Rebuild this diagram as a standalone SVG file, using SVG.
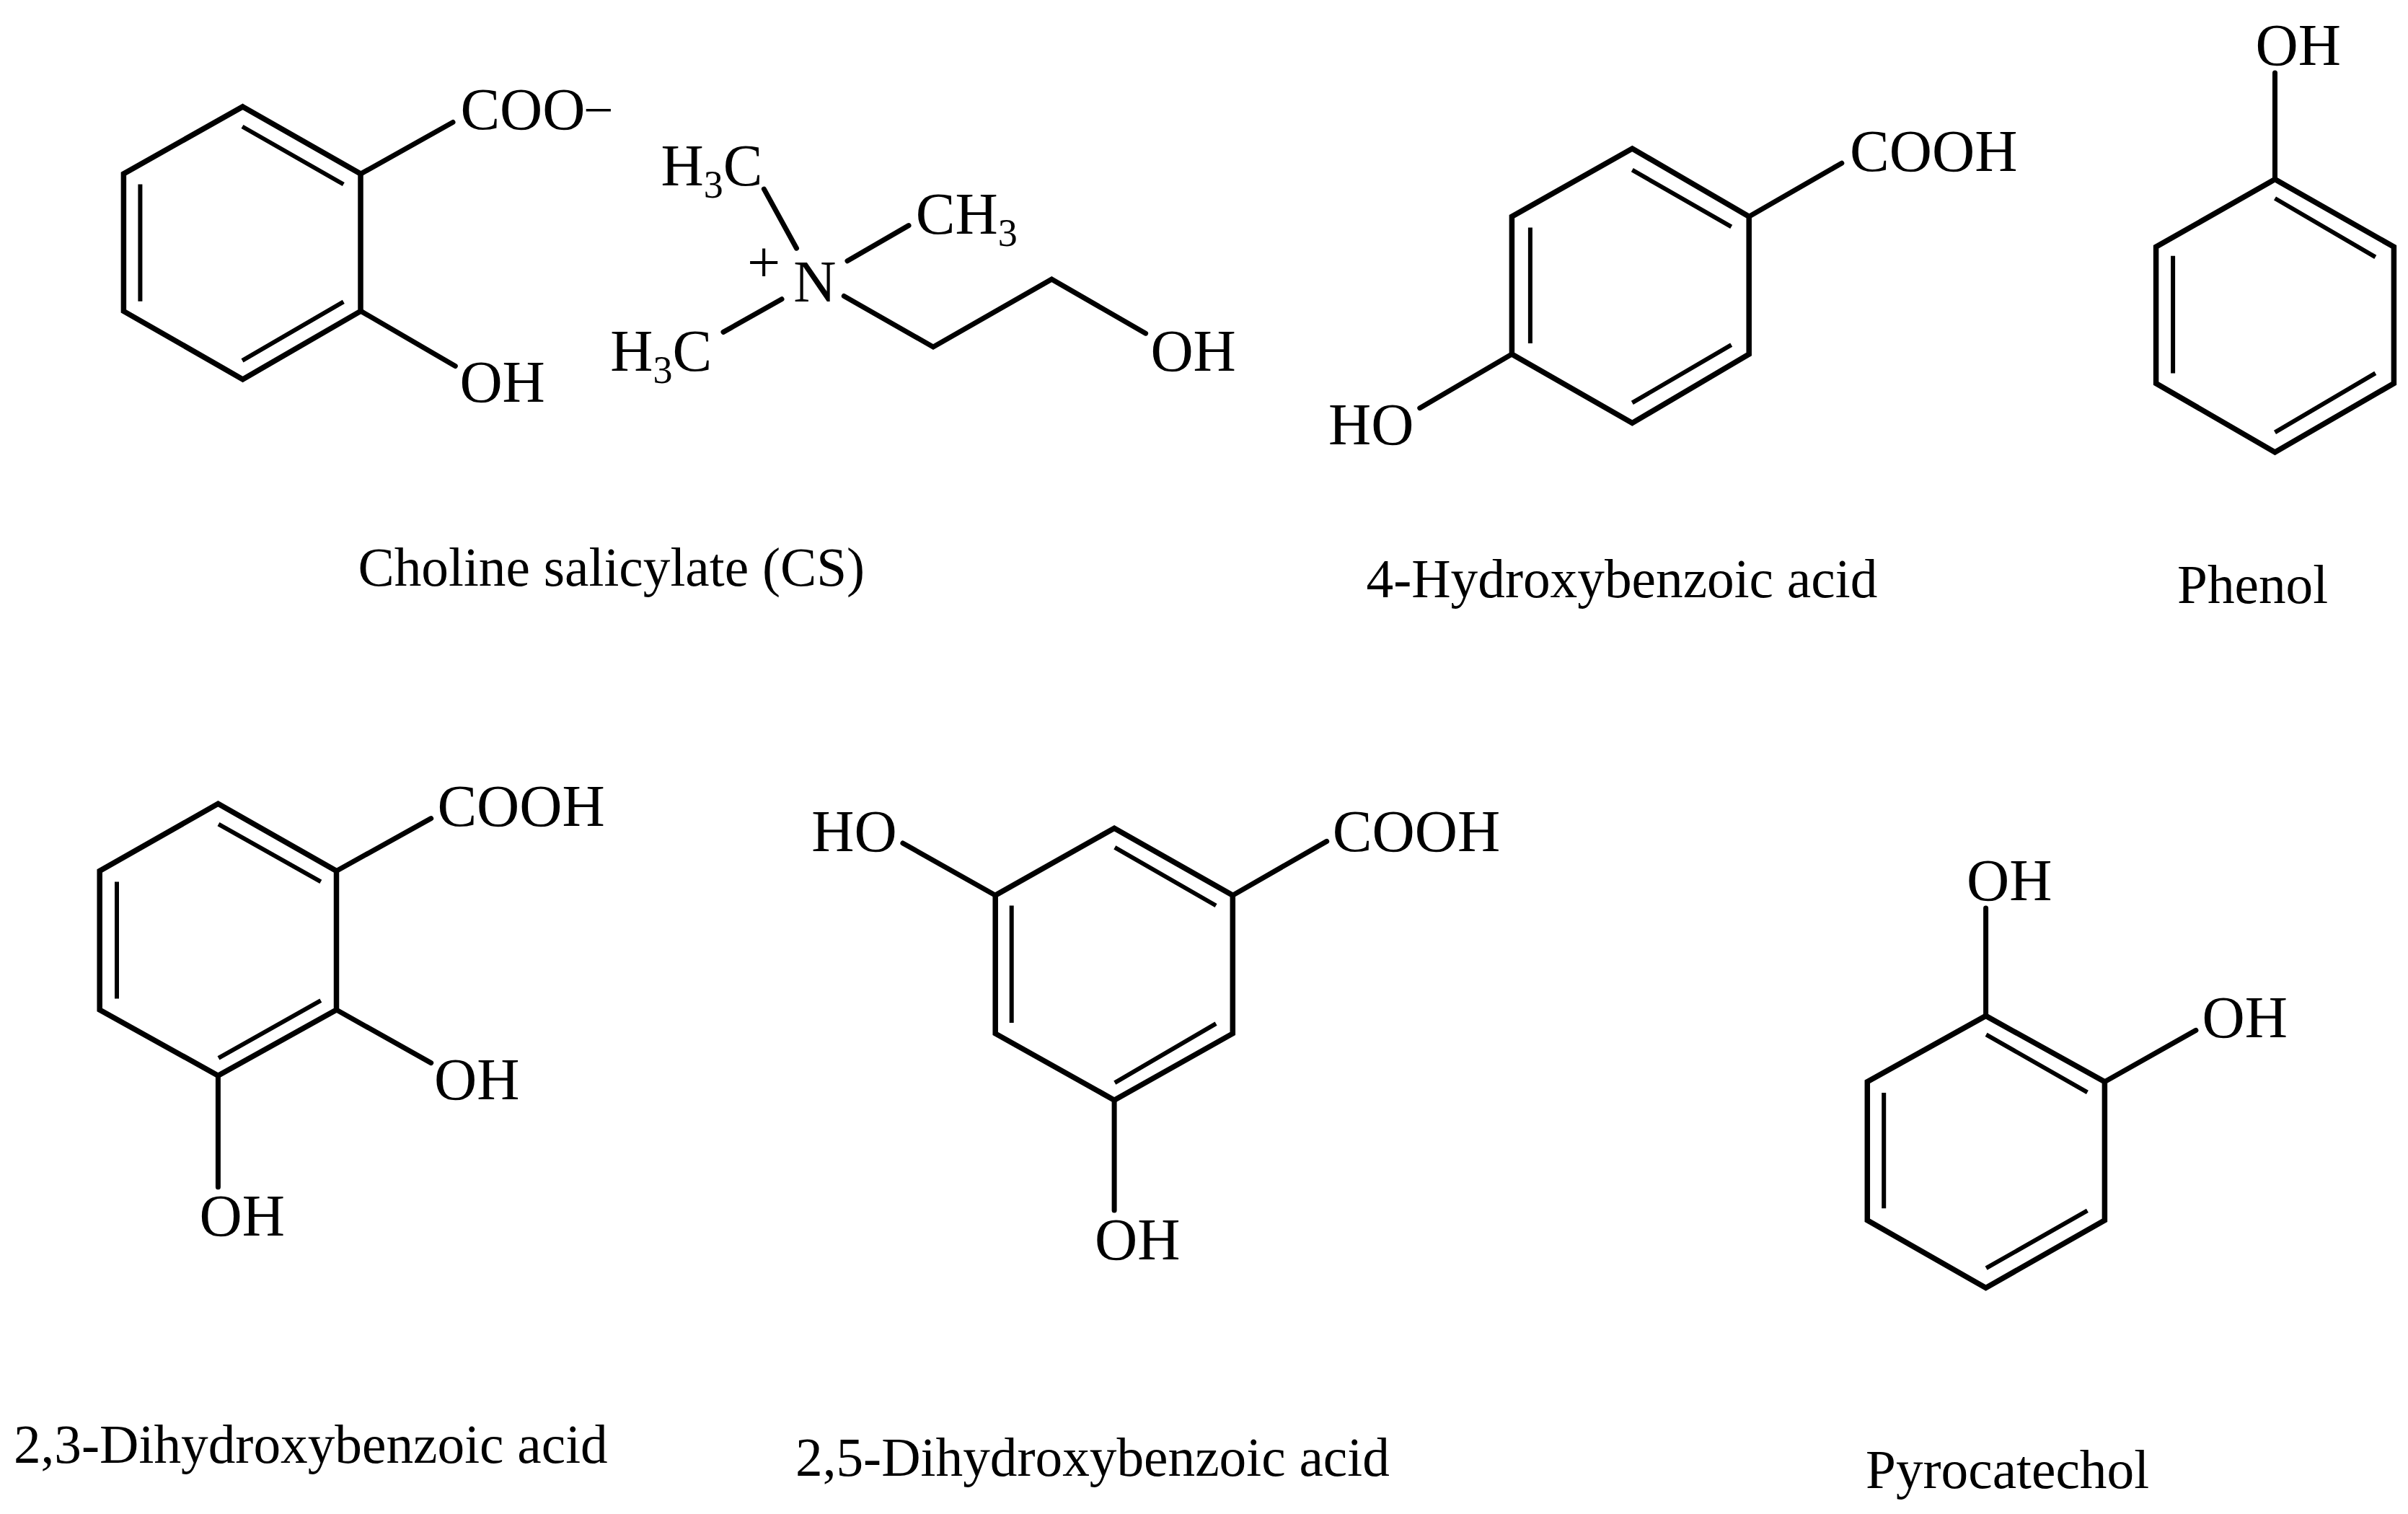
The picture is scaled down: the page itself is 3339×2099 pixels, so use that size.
<svg xmlns="http://www.w3.org/2000/svg" width="3339" height="2099" viewBox="0 0 3339 2099">
<style>
text{font-family:"Liberation Serif","Times New Roman",serif;fill:#000}
.a{font-size:82px}
.s{font-size:54px}
.m{font-size:73.6px}
.c{font-size:75.3px}
.r,.b,.i{fill:none;stroke:#000;stroke-linejoin:miter}
.r{stroke-width:7.5}
.b{stroke-width:7;stroke-linecap:round}
.i{stroke-width:6}
</style>
<rect width="3339" height="2099" fill="#fff"/>
<g id="connectors" class="b">
<path d="M500.5 240.9L628 169.5M500.5 431.4L631.3 507.5"/>
<path d="M1059.4 262.1L1104.5 344.2M1175 361.8L1260 312.6M1084 414.7L1003 460.4M1170.3 410.5L1294 481L1458.3 387.1L1588.6 462.2"/>
<path d="M2425.2 300.2L2553.8 226.2M2096.4 491L1968.8 565.7"/>
<path d="M3154.5 248.6V101"/>
<path d="M466.5 1207.5L597.7 1134.6M466.5 1400L597.7 1473.6M302.4 1491.2V1645.8"/>
<path d="M1709.3 1241.2L1839.7 1166.4M1380.2 1241.2L1251.9 1169M1545.1 1525.2V1677.9"/>
<path d="M2753.6 1408.4V1258.9M2918.4 1499.8L3044.9 1428.4"/>
</g>
<g id="choline-salicylate">
<polygon class="r" points="336.6,147.9 500,240.9 500,431.4 336.6,525.9 171.4,431.4 171.4,240.9"/>
<path class="i" d="M336 175.5L476.3 255.5M194.4 255.5V417.8M476.3 418.3L336 499.8"/>
<text class="a" x="638.4" y="179.4">COO</text>
<text class="m" x="808.9" y="177">−</text>
<text class="a" x="637.4" y="557.4">OH</text>
<text class="a" x="916.6" y="256.8">H<tspan class="s" dy="17">3</tspan><tspan dy="-17">C</tspan></text>
<text class="a" x="1269.8" y="324.3">CH<tspan class="s" dy="17">3</tspan></text>
<text class="a" x="1036" y="391">+</text>
<text class="a" x="1100.2" y="417.6">N</text>
<text class="a" x="846.2" y="513.8">H<tspan class="s" dy="17">3</tspan><tspan dy="-17">C</tspan></text>
<text class="a" x="1595.4" y="513.8">OH</text>
<text class="c" x="496.5" y="812">Choline salicylate (CS)</text>
</g>
<g id="hydroxybenzoic-4">
<polygon class="r" points="2263.3,206 2425.2,300.2 2425.2,491 2263.3,586.5 2096.4,491 2096.4,300.2"/>
<path class="i" d="M2263.3 235.7L2400.7 314.3M2400.7 478.1L2263.3 558.4M2121.9 315.4V475.9"/>
<text class="a" x="2565" y="237.4">COOH</text>
<text class="a" x="1842" y="615.6">HO</text>
<text class="c" x="1894.5" y="827.8">4-Hydroxybenzoic acid</text>
</g>
<g id="phenol">
<polygon class="r" points="3154.5,248.6 3319.4,342.3 3319.4,531.5 3154.5,626.9 2989.6,531.5 2989.6,342.3"/>
<path class="i" d="M3154.5 275L3293.8 356.4M3293.8 517.4L3154.5 599.4M3013.1 354.7V517.4"/>
<text class="a" x="3127.5" y="89.8">OH</text>
<text class="c" x="3019" y="836.2">Phenol</text>
</g>
<g id="dihydroxybenzoic-23">
<polygon class="r" points="302.4,1114.3 466.5,1207.5 466.5,1400 302.4,1491.2 138.2,1400 138.2,1207.5"/>
<path class="i" d="M303 1142.7L444.8 1222.4M162 1222.4V1384.5M444.8 1387.2L303 1466.8"/>
<text class="a" x="606.4" y="1145.4">COOH</text>
<text class="a" x="602" y="1523.6">OH</text>
<text class="a" x="276.6" y="1713.4">OH</text>
<text class="c" x="18.9" y="2028.1">2,3-Dihydroxybenzoic acid</text>
</g>
<g id="dihydroxybenzoic-25">
<polygon class="r" points="1545.1,1148.2 1709.3,1241.2 1709.3,1432.9 1545.1,1525.2 1380.2,1432.9 1380.2,1241.2"/>
<path class="i" d="M1545.8 1174.9L1686.1 1255.5M1402.7 1255.5V1418M1686.1 1419.2L1545.8 1501.1"/>
<text class="a" x="1847.8" y="1180">COOH</text>
<text class="a" x="1125.2" y="1180">HO</text>
<text class="a" x="1518" y="1745.5">OH</text>
<text class="c" x="1103" y="2046.4">2,5-Dihydroxybenzoic acid</text>
</g>
<g id="pyrocatechol">
<polygon class="r" points="2753.6,1408.4 2918.4,1499.8 2918.4,1691.7 2753.6,1785.5 2589.3,1691.7 2589.3,1499.8"/>
<path class="i" d="M2754.1 1434.4L2894.4 1514.3M2612.2 1514.9V1675.3M2894.4 1678.3L2754.1 1758.2"/>
<text class="a" x="2727" y="1248">OH</text>
<text class="a" x="3053.6" y="1438.1">OH</text>
<text class="c" x="2587" y="2062.5">Pyrocatechol</text>
</g>
</svg>
